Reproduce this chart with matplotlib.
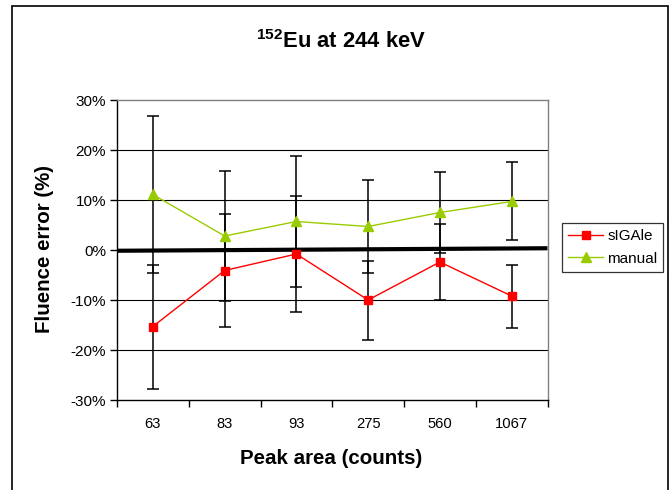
import matplotlib
matplotlib.use("Agg")
import matplotlib.pyplot as plt
from matplotlib.patches import Rectangle
from matplotlib.ticker import FuncFormatter

plt.rcParams['font.family'] = ['Liberation Sans', 'DejaVu Sans']

# Peak areas (counts) used as categories
categories = ["63", "83", "93", "275", "560", "1067"]

# Fluence error (%) and uncertainty for each method
sigale = [-15.3, -4.1, -0.8, -10.0, -2.4, -9.2]
sigale_err = [12.4, 11.2, 11.5, 7.9, 7.6, 6.3]
manual = [11.1, 2.8, 5.7, 4.7, 7.5, 9.7]
manual_err = [15.7, 12.9, 13.0, 9.2, 8.1, 7.8]

# Reference line near zero (left and right end values, %)
zero_line = [-0.15, 0.35]

y_ticks = [-30, -20, -10, 0, 10, 20, 30]

W, H = 672, 490
fig = plt.figure(figsize=(W / 100, H / 100), dpi=100)
ax = fig.add_axes([117 / W, 1 - 400 / H, 430.5 / W, 300 / H])

x = list(range(len(categories)))
xlim = (-0.5, len(categories) - 0.5)

# horizontal gridlines
for yv in y_ticks:
    if yv not in (0, 30, -30):
        ax.axhline(yv, color='black', lw=0.8, zorder=1)

# thick reference line
ax.plot(list(xlim), zero_line, color='black', lw=3, solid_capstyle='butt',
        zorder=2, clip_on=False)

ax.errorbar(x, sigale, yerr=sigale_err, fmt='none', ecolor='black',
            elinewidth=1.1, capsize=4, capthick=1.1, zorder=3)
ax.errorbar(x, manual, yerr=manual_err, fmt='none', ecolor='black',
            elinewidth=1.1, capsize=4, capthick=1.1, zorder=3)

ax.plot(x, sigale, color='#FF0000', lw=1.0, marker='s', markersize=6,
        markerfacecolor='#FF0000', markeredgecolor='#FF0000',
        label='sIGAle', zorder=4)
ax.plot(x, manual, color='#99CC00', lw=1.0, marker='^', markersize=7.5,
        markerfacecolor='#99CC00', markeredgecolor='#99CC00',
        label='manual', zorder=4)

ax.set_xlim(*xlim)
ax.set_ylim(-30, 30)
ax.set_yticks(y_ticks)
ax.yaxis.set_major_formatter(FuncFormatter(lambda v, p: f"{int(round(v))}%"))

# category labels at centers, tick marks at category boundaries
ax.set_xticks([i - 0.5 for i in range(len(categories) + 1)])
ax.set_xticklabels([])
ax.set_xticks(x, minor=True)
ax.set_xticklabels(categories, minor=True, fontsize=10.6)
ax.tick_params(axis='x', which='minor', length=0, pad=12)
ax.tick_params(axis='x', which='major', direction='out', length=5,
               width=1, color='black')
ax.tick_params(axis='y', direction='out', length=5, width=1,
               labelsize=11, pad=3)

ax.spines['left'].set_color('black')
ax.spines['bottom'].set_color('black')
ax.spines['right'].set_color('#808080')
ax.spines['top'].set_color('#808080')
for s in ax.spines.values():
    s.set_linewidth(1.0)

# axis titles
fig.text(331.5 / W, 1 - 458 / H, "Peak area (counts)", ha='center',
         va='center', fontsize=14.8, fontweight='bold')
fig.text(45 / W, 1 - 249 / H, "Fluence error (%)", ha='center',
         va='center', rotation=90, fontsize=14.8, fontweight='bold')

fig.text(341 / W, 1 - 41.5 / H, r"$\mathregular{^{152}}$Eu at 244 keV",
         ha='center', va='center', fontsize=15.8, fontweight='bold')

leg = ax.legend(loc='upper left', bbox_to_anchor=((562 - 117) / 430.5, 0.59),
                frameon=True, fancybox=False, edgecolor='black',
                fontsize=11, handlelength=2.3, borderpad=0.4,
                labelspacing=0.55, handletextpad=0.25, borderaxespad=0)
leg.get_frame().set_linewidth(0.9)

# outer frame of the chart
fig.patches.append(Rectangle((12 / W, -0.02), (667.5 - 12) / W,
                             1 - 6 / H + 0.02, transform=fig.transFigure,
                             fill=False, edgecolor='black', lw=1.2))

fig.savefig("out.png", dpi=100)
